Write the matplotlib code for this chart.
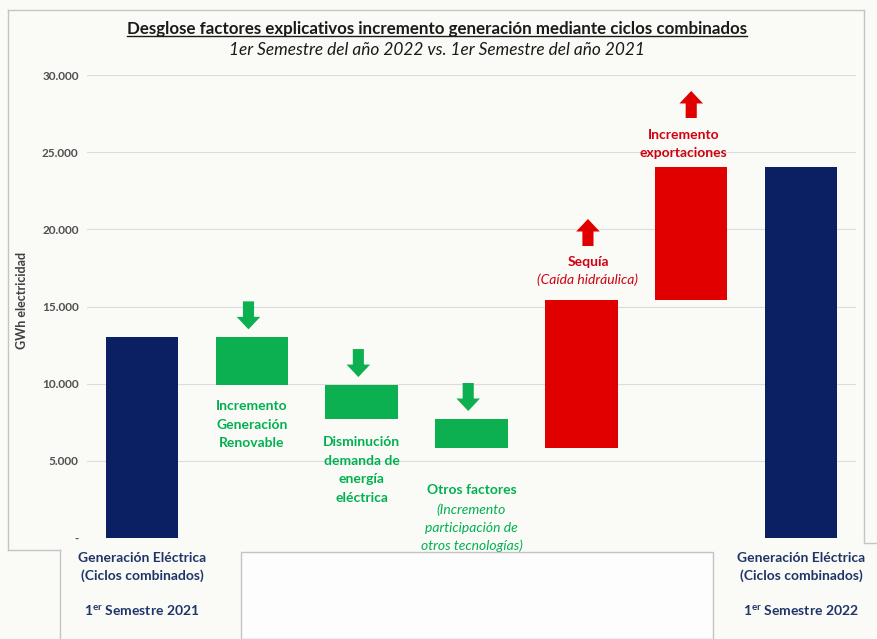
"""Waterfall: factores del incremento de generación con ciclos combinados (1S 2022 vs 1S 2021)."""

import numpy as np
import matplotlib
matplotlib.use("Agg")
import matplotlib.pyplot as plt
from matplotlib.lines import Line2D
from matplotlib.patches import Rectangle

plt.rcParams["font.family"] = ["Lato", "DejaVu Sans"]
plt.rcParams["mathtext.fontset"] = "custom"
plt.rcParams["mathtext.rm"] = "Lato"
plt.rcParams["mathtext.bf"] = "Lato:bold"

W, H = 877, 639

# ---- data (GWh) ----
categories = ["Generación 1S 2021", "Incremento Generación Renovable",
              "Disminución demanda", "Otros factores", "Sequía",
              "Incremento exportaciones", "Generación 1S 2022"]
gen_2021 = 13000
changes = [-3090, -2200, -1880, 9590, 8620]
gen_2022 = 24040
yticks = [0, 5000, 10000, 15000, 20000, 25000, 30000]
ytick_labels = ["-", "5.000", "10.000", "15.000", "20.000", "25.000", "30.000"]

NAVY = "#0b2063"
GREEN = "#0db050"
RED = "#e00000"
GREEN_TXT = "#00b050"
RED_TXT = "#d00010"
NAVY_TXT = "#1f3469"
BG = "#fafbf7"
FRAME = "#c4c4c4"


def px(x, y):
    return x / W, 1 - y / H


fig = plt.figure(figsize=(W / 100, H / 100), dpi=100, facecolor=BG)

# frame / boxes of the original slide
frame = [((8, 10), (864, 10)), ((8, 10), (8, 550)), ((8, 550), (60, 550)),
         ((60, 550), (60, 639)), ((864, 10), (864, 543)), ((864, 543), (877, 543))]
for a, b in frame:
    fig.add_artist(Line2D([px(*a)[0], px(*b)[0]], [px(*a)[1], px(*b)[1]],
                          color=FRAME, lw=1.0, transform=fig.transFigure))
fig.add_artist(Rectangle(px(241, 639), 472 / W, 87 / H, facecolor="#fdfdfd",
                         edgecolor=FRAME, lw=1.0, transform=fig.transFigure))

ax = fig.add_axes([87 / W, 101 / H, 769 / W, 463 / H])
ax.set_facecolor(BG)
ax.set_xlim(-0.5, 6.5)
ax.set_ylim(0, 30000)
ax.set_yticks(yticks, ytick_labels)
ax.tick_params(axis="y", length=0, pad=6, labelsize=8.5, labelcolor="#505050")
for t in ax.get_yticklabels():
    t.set_fontweight("bold")
ax.set_xticks([])
ax.grid(axis="y", color="#dcdcdc", lw=0.8)
ax.set_axisbelow(True)
for s in ax.spines.values():
    s.set_visible(False)

levels = gen_2021 + np.cumsum(changes)
prev = np.concatenate([[gen_2021], levels[:-1]])
bottoms = [0] + list(np.minimum(prev, levels)) + [0]
heights = [gen_2021] + list(np.abs(changes)) + [gen_2022]
colors = [NAVY, GREEN, GREEN, GREEN, RED, RED, NAVY]
x = np.arange(len(categories))
ax.bar(x, heights, bottom=bottoms, width=0.66, color=colors, zorder=3)

dy = 30000 / 463  # data units per pixel


def arrow(i, y_from, y_to, color):
    ax.annotate("", xy=(i, y_to), xytext=(i, y_from),
                arrowprops=dict(arrowstyle="simple,head_length=9,head_width=17,tail_width=8",
                                mutation_scale=1, color=color, shrinkA=0, shrinkB=0, lw=0),
                zorder=4)


# green arrows (down) above the reductions
for i in (1, 2, 3):
    top = prev[i - 1]
    arrow(i - 0.03, top + 36 * dy, top + 8 * dy, GREEN)
# red arrows (up)
arrow(4.06, levels[3] + 54 * dy, levels[3] + 81 * dy, RED)
arrow(5, levels[4] + 49 * dy, levels[4] + 76 * dy, RED)

lab = dict(ha="center", fontsize=10, fontweight="bold", linespacing=1.65)
ax.text(1, levels[0] - 15 * dy, "Incremento\nGeneración\nRenovable", va="top", color=GREEN_TXT, **lab)
ax.text(2, levels[1] - 17 * dy, "Disminución\ndemanda de\nenergía\neléctrica", va="top", color=GREEN_TXT, **lab)
ax.text(3, levels[2] - 36 * dy, "Otros factores", va="top", color=GREEN_TXT, **lab)
ax.text(3, levels[2] - 55 * dy, "(Incremento\nparticipación de\notros tecnologías)", va="top",
        color=GREEN_TXT, ha="center", fontsize=10, style="italic", linespacing=1.6)
ax.text(4.06, levels[3] + 38 * dy, "Sequía", va="center", color=RED_TXT, **lab)
ax.text(4.06, levels[3] + 20 * dy, "(Caída hidráulica)", va="center", ha="center",
        color=RED_TXT, fontsize=10, style="italic")
ax.text(4.93, levels[4] + 23 * dy, "Incremento\nexportaciones", va="center", color=RED_TXT, **lab)

# category labels under the two totals
for i, year in ((0, "2021"), (6, "2022")):
    xf = (87 + (i + 0.5) * 769 / 7) / W
    fig.text(xf, 1 - 567 / H, "Generación Eléctrica\n(Ciclos combinados)", ha="center", va="center",
             color=NAVY_TXT, fontsize=10, fontweight="bold", linespacing=1.5)
    fig.text(xf, 1 - 611 / H, r"1$^{\mathbf{er}}$ Semestre " + year, ha="center", va="center",
             color=NAVY_TXT, fontsize=10, fontweight="bold")

fig.text(*px(22, 300), "GWh electricidad", rotation=90, ha="center", va="center",
         fontsize=9, fontweight="bold", color="#404040")

title = fig.text(*px(437, 29), "Desglose factores explicativos incremento generación mediante ciclos combinados",
                 ha="center", va="center", fontsize=12.2, fontweight="bold", color="#1a1a1a")
fig.text(*px(437, 50), "1er Semestre del año 2022 vs. 1er Semestre del año 2021",
         ha="center", va="center", fontsize=12.4, style="italic", color="#1a1a1a")

# underline the title
fig.canvas.draw()
bb = title.get_window_extent()
fig.add_artist(Line2D([bb.x0 / W, bb.x1 / W], [(bb.y0 + 1) / H] * 2, color="#1a1a1a", lw=1.0,
                      transform=fig.transFigure))

fig.savefig("out.png", dpi=100, facecolor=BG)
